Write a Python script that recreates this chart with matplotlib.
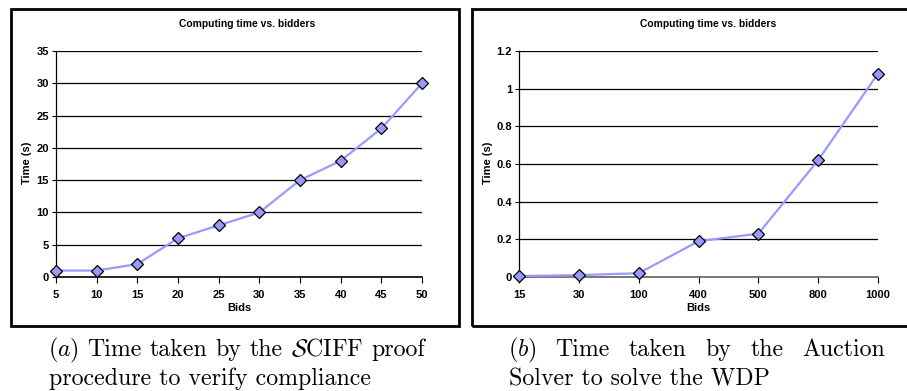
import matplotlib
matplotlib.use("Agg")
import matplotlib.pyplot as plt
from matplotlib.patches import Rectangle

# Data
left_bids = ["5", "10", "15", "20", "25", "30", "35", "40", "45", "50"]
left_time = [1, 1, 2, 6, 8, 10, 15, 18, 23, 30]
left_yticks = [0, 5, 10, 15, 20, 25, 30, 35]

right_bids = ["15", "30", "100", "400", "500", "800", "1000"]
right_time = [0.005, 0.01, 0.02, 0.19, 0.23, 0.62, 1.08]
right_yticks = [0, 0.2, 0.4, 0.6, 0.8, 1.0, 1.2]
right_yticklabels = ["0", "0.2", "0.4", "0.6", "0.8", "1", "1.2"]

title = "Computing time vs. bidders"
xlabel = "Bids"
ylabel = "Time (s)"

cap_a1 = [r"$(a)$", "Time", "taken", "by", "the", r"$\mathcal{S}$CIFF", "proof"]
cap_a2 = "procedure to verify compliance"
cap_b1 = [r"$(b)$", "Time", "taken", "by", "the", "Auction"]
cap_b2 = "Solver to solve the WDP"

W, H = 907, 391
plt.rcParams["mathtext.fontset"] = "cm"
fig = plt.figure(figsize=(W / 100, H / 100), dpi=100)

def fx(x):
    return x / W

def fy(y):
    return 1 - y / H

SANS = "Liberation Sans"
LINE = "#9999FF"

def make_panel(x0, x1, cats, vals, yticks, yticklabels, title_x, ylabel_x, spine_col):
    ax = fig.add_axes([fx(x0), fy(277), fx(x1 - x0), fy(51) - fy(277)])
    idx = list(range(len(cats)))
    ax.plot(idx, vals, color=LINE, lw=1.6, marker="D", markersize=6.5,
            markerfacecolor=LINE, markeredgecolor="black", markeredgewidth=0.9,
            clip_on=False, zorder=5)
    ax.set_xlim(0, len(cats) - 1)
    ax.set_ylim(yticks[0], yticks[-1])
    ax.set_yticks(yticks)
    ax.set_yticklabels(yticklabels, fontfamily=SANS, fontweight="bold", fontsize=8)
    ax.set_xticks(idx)
    ax.set_xticklabels(cats, fontfamily=SANS, fontweight="bold", fontsize=8)
    for y in yticks[1:]:
        ax.axhline(y, color="black", lw=0.9, zorder=1)
    for s in ["top", "right"]:
        ax.spines[s].set_visible(False)
    ax.spines["left"].set_color("black")
    ax.spines["left"].set_linewidth(0.9)
    ax.spines["bottom"].set_color(spine_col)
    ax.spines["bottom"].set_linewidth(1.2)
    ax.tick_params(axis="y", length=3, width=0.8, pad=2)
    ax.tick_params(axis="x", length=4, width=0.8, pad=5)
    ax.set_facecolor("white")
    fig.text(fx(title_x), fy(24), title, ha="center", va="center",
             fontfamily=SANS, fontweight="bold", fontsize=7.4)
    fig.text(fx((x0 + x1) / 2), fy(308), xlabel, ha="center", va="center",
             fontfamily=SANS, fontweight="bold", fontsize=8)
    fig.text(fx(ylabel_x), fy(163), ylabel, ha="center", va="center", rotation=90,
             fontfamily=SANS, fontweight="bold", fontsize=8)
    return ax

make_panel(56, 422, left_bids, left_time, left_yticks, [str(v) for v in left_yticks],
           247, 27, "black")
make_panel(519, 878, right_bids, right_time, right_yticks, right_yticklabels,
           708, 488, "#606060")

# Borders
fig.patches.append(Rectangle((fx(11), fy(326)), fx(459 - 11), fy(9) - fy(326),
                             transform=fig.transFigure, fill=False, ec="black", lw=2))
fig.patches.append(Rectangle((fx(472), fy(326)), fx(920 - 472), fy(9) - fy(326),
                             transform=fig.transFigure, fill=False, ec="black", lw=2,
                             clip_on=False))

# Captions
cap_fs = 17.2
renderer = fig.canvas.get_renderer()

def justified(words, x0, x1, ybase):
    texts = [fig.text(0, fy(ybase), w, ha="left", va="baseline",
                      fontfamily="cmr10", fontsize=cap_fs) for w in words]
    widths = [t.get_window_extent(renderer).width for t in texts]
    gap = (x1 - x0 - sum(widths)) / (len(words) - 1)
    x = x0
    for t, w in zip(texts, widths):
        t.set_x(fx(x))
        x += w + gap

justified(cap_a1, 48, 425, 356)
fig.text(fx(49), fy(385), cap_a2, ha="left", va="baseline", fontfamily="cmr10", fontsize=cap_fs)
justified(cap_b1, 508, 885, 356)
fig.text(fx(509), fy(385), cap_b2, ha="left", va="baseline", fontfamily="cmr10", fontsize=cap_fs)

fig.savefig("out.png", dpi=100)
